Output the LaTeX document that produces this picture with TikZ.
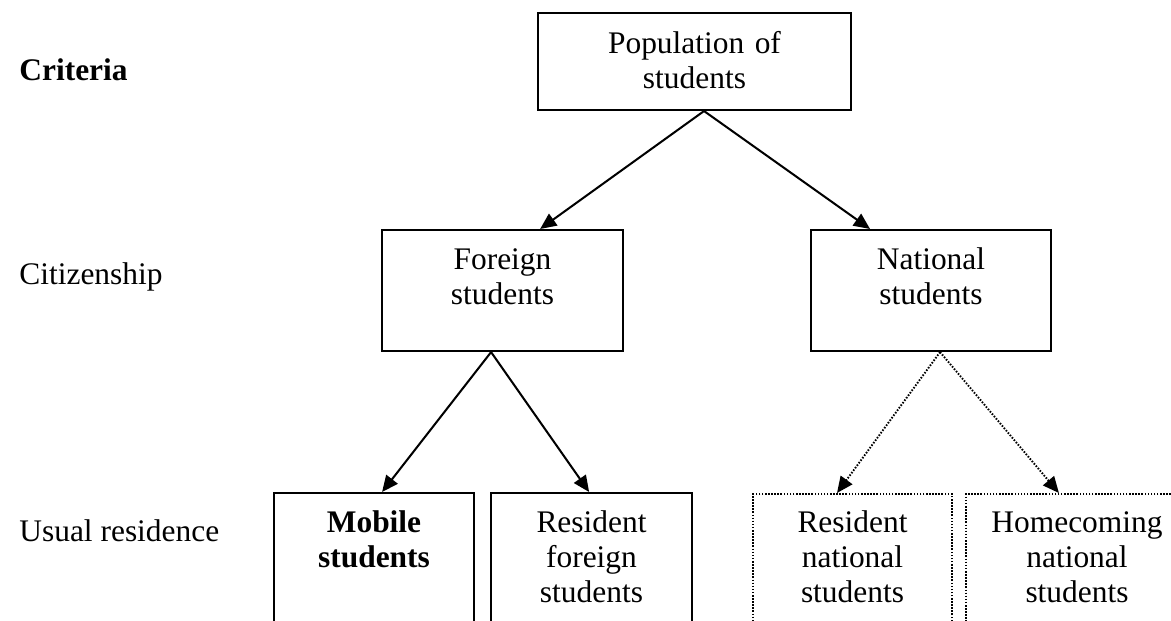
\documentclass[tikz,border=0pt]{standalone}
\usepackage{fontspec}
\setmainfont{Liberation Serif}
\usetikzlibrary{arrows.meta}

\begin{document}
\begin{tikzpicture}[x=0.42pt, y=-0.42pt,
    font=\fontsize{13.2pt}{14.7pt}\selectfont,
    box/.style={draw, line width=0.9pt, inner sep=0pt, anchor=north, align=center},
    dotbox/.style={box, line width=0.9pt, dash pattern=on 0.65pt off 0.65pt},
    arr/.style={-{Triangle[length=6.8pt,width=6pt]}, line width=0.85pt},
    dotarr/.style={arr, line width=0.8pt, dash pattern=on 0.65pt off 0.65pt}]
    % Rahmen (unten und rechts abgeschnitten)
    \useasboundingbox (0,0) rectangle (1171,621);
    \clip (0,0) rectangle (1171,621);

    % Kriterien links
    \node[anchor=base west] (crit) at (11,81) {\textbf{Criteria}};
    \node[anchor=base west] (citi) at (11,285) {Citizenship};
    \node[anchor=base west] (resi) at (11,542) {Usual residence};

    % Ebene 1
    \node[box, text width=131.5pt, text height=16.8pt, text depth=23.9pt] (pop) at (694.5,12) {Population of\\students};

    % Ebene 2
    \node[box, text width=101pt, text height=16.4pt, text depth=34.4pt] (foreign) at (502.5,229) {Foreign\\students};
    \node[box, text width=101pt, text height=16.4pt, text depth=34.4pt] (national) at (931,229) {National\\students};

    % Ebene 3
    \node[box, text width=84pt, text height=16.4pt, text depth=63pt] (mobile) at (374,492) {\bfseries Mobile\\students};
    \node[box, text width=84.4pt, text height=16.4pt, text depth=63pt] (resforeign) at (591.5,492) {Resident\\foreign\\students};
    \node[dotbox, text width=83.6pt, text height=16pt, text depth=63pt] (resnational) at (852.5,493) {Resident\\national\\students};
    \node[dotbox, text width=93.2pt, text height=16pt, text depth=63pt] (homecoming) at (1077,493) {Homecoming\\national\\students};

    % Pfeile
    \draw[arr] ([xshift=4pt]pop.south) -- ([xshift=15.8pt]foreign.north);
    \draw[arr] ([xshift=4pt]pop.south) -- ([xshift=-25.6pt]national.north);
    \draw[arr] ([xshift=-4.8pt]foreign.south) -- ([xshift=3.4pt]mobile.north);
    \draw[arr] ([xshift=-4.8pt]foreign.south) -- ([xshift=-1pt]resforeign.north);
    \draw[dotarr] ([xshift=3.8pt]national.south) -- ([xshift=-6.5pt]resnational.north);
    \draw[dotarr] ([xshift=3.8pt]national.south) -- ([xshift=-7.6pt]homecoming.north);
\end{tikzpicture}
\end{document}
